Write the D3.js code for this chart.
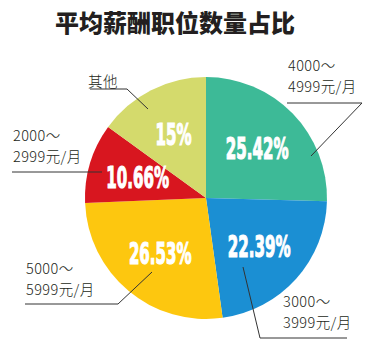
<!DOCTYPE html>
<html>
<head>
<meta charset="utf-8">
<script src="https://cdn.jsdelivr.net/npm/d3@7"></script>
<style>
  body { margin: 0; background: #fff; }
  svg { display: block; }
</style>
</head>
<body>
<svg id="chart"></svg>
<script>
// data, clockwise from 12 o'clock
const categories = ["4000～4999元/月", "3000～3999元/月", "5000～5999元/月", "2000～2999元/月", "其他"];
const shares = [25.42, 22.39, 26.53, 10.66, 15];
const shareLabels = ["25.42%", "22.39%", "26.53%", "10.66%", "15%"];
const colors = ["#3dba97", "#1b8fd3", "#fdc70f", "#d8161f", "#d4da6c"];

const width = 377, height = 351;
const cx = 206, cy = 198, radius = 121;

// where the category names sit and how the leader line bends (layout only)
const callouts = [
  {lines: ["4000～", "4999元/月"], tx: 288, ty: 71, path: [[287, 103], [362, 103], [311, 156]]},
  {lines: ["3000～", "3999元/月"], tx: 283, ty: 307, path: [[347, 338], [260, 338], [243, 267]]},
  {lines: ["5000～", "5999元/月"], tx: 26, ty: 274, path: [[25, 304], [118, 304], [152, 272]]},
  {lines: ["2000～", "2999元/月"], tx: 13, ty: 141, path: [[12, 172], [102, 172]]},
  {lines: ["其他"], tx: 88, ty: 87, path: [[90, 89], [127, 89], [148, 109]]}
];

const svg = d3.select("#chart")
  .attr("width", width)
  .attr("height", height);

svg.append("text")
  .attr("x", 175)
  .attr("y", 32)
  .attr("text-anchor", "middle")
  .attr("font-family", "'Noto Sans CJK SC', sans-serif")
  .attr("font-weight", 900)
  .attr("font-size", 24)
  .attr("fill", "#231f20")
  .text("平均薪酬职位数量占比");

const pie = d3.pie().sort(null).value(d => d);
const arcs = pie(shares);

const arc = d3.arc().innerRadius(0).outerRadius(radius);
const labelArc = d3.arc().innerRadius(radius * 0.59).outerRadius(radius * 0.59);

const g = svg.append("g").attr("transform", `translate(${cx},${cy})`);

g.selectAll("path.slice")
  .data(arcs)
  .enter()
  .append("path")
  .attr("class", "slice")
  .attr("d", arc)
  .attr("fill", (d, i) => colors[i]);

// leader lines + category names
const line = d3.line();
callouts.forEach(c => {
  svg.append("path")
    .attr("d", line(c.path))
    .attr("fill", "none")
    .attr("stroke", "#333")
    .attr("stroke-width", 1);

  const t = svg.append("text")
    .attr("font-family", "'Noto Sans CJK SC', sans-serif")
    .attr("font-size", 14.5)
    .attr("font-weight", 300)
    .attr("letter-spacing", 0.4)
    .attr("fill", "#231f20");
  c.lines.forEach((s, j) => {
    t.append("tspan")
      .attr("x", c.tx)
      .attr("y", c.ty + j * 21)
      .text(s);
  });
});

// percentage labels
g.selectAll("g.pct")
  .data(arcs)
  .enter()
  .append("g")
  .attr("class", "pct")
  .attr("transform", d => {
    const [x, y] = labelArc.centroid(d);
    return `translate(${x},${y}) scale(0.54,1)`;
  })
  .append("text")
  .attr("text-anchor", "middle")
  .attr("y", 11)
  .attr("font-family", "'DejaVu Sans Condensed', 'DejaVu Sans', sans-serif")
  .attr("font-weight", "bold")
  .attr("font-size", 31)
  .attr("fill", "#fff")
  .attr("stroke", "#fff")
  .attr("stroke-width", 1.2)
  .text((d, i) => shareLabels[i]);
</script>
</body>
</html>
